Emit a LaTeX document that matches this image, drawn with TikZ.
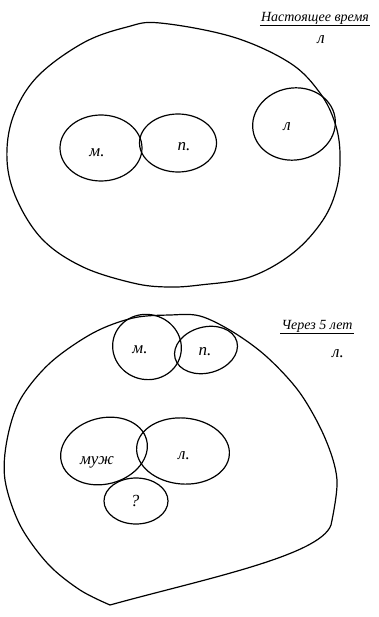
\documentclass[tikz,border=0pt]{standalone}
\usepackage{fontspec}
\setmainfont{Liberation Serif}
\usetikzlibrary{shapes.geometric}
\begin{document}
\begin{tikzpicture}[x=1pt,y=-1pt,
  outline/.style={line width=1.2pt, line join=round},
  blob/.style={draw, ellipse, line width=1.2pt, inner sep=0pt},
  hand/.style={font=\itshape\fontsize{17}{19}\selectfont, inner sep=0pt},
  head/.style={font=\itshape\fontsize{14}{16}\selectfont, inner sep=1pt},
  uline/.style={line width=1.1pt}]
\path[use as bounding box] (0,0) rectangle (379,617);

% ---------- upper picture ----------
\draw[outline] plot[smooth cycle, tension=0.6] coordinates {
  (160,23) (233,37) (290,63) (320,93) (335,123) (340,153) (337,187)
  (323,220) (293,253) (250,277) (200,285) (167,287) (133,283) (83,267)
  (43,240) (17,200) (7,160) (13,117) (37,77) (83,43) (127,27)};

\node[head] (t1) at (315,18) {Настоящее время};
\draw[uline] (t1.south west) -- (t1.south east);
\node[hand] (t1l) at (321,40) {л};

\node[blob, minimum width=82pt, minimum height=66pt] (m1) at (101,148) {};
\node[blob, minimum width=77pt, minimum height=58pt] (p1) at (178,143) {};
\node[blob, minimum width=83pt, minimum height=72pt, rotate=10] (l1) at (294,124) {};
\node[hand] (m1t) at (97,153) {м.};
\node[hand] (p1t) at (184,147) {п.};
\node[hand] (l1t) at (287,127) {л};

% ---------- lower picture ----------
\draw[outline] plot[smooth, tension=0.55] coordinates {
  (110,605) (80,590) (48,564) (20,525) (5,480) (7,440) (20,400) (50,363)
  (93,333) (133,318) (170,315) (200,316) (233,332) (267,357) (300,393)
  (325,438) (337,480) (331,525)}
  .. controls (320,556) and (200,580) .. (110,605);

\node[head] (t2) at (317,326) {Через 5 лет};
\draw[uline] (t2.south west) -- (t2.south east);
\node[hand] (t2l) at (338,354) {л.};

\node[blob, minimum width=69pt, minimum height=65pt, rotate=-15] (m2) at (147,347) {};
\node[blob, minimum width=64pt, minimum height=46pt, rotate=15] (p2) at (206,350) {};
\node[blob, minimum width=88pt, minimum height=66pt, rotate=15] (h2) at (104,451) {};
\node[blob, minimum width=93pt, minimum height=66pt, rotate=-5] (l2) at (183,451) {};
\node[blob, minimum width=64pt, minimum height=46pt] (q2) at (136,501) {};
\node[hand] (m2t) at (140,350) {м.};
\node[hand] (p2t) at (205,352) {п.};
\node[hand] (h2t) at (97,462) {муж};
\node[hand] (l2t) at (184,456) {л.};
\node[hand] (q2t) at (135,501) {?};
\end{tikzpicture}
\end{document}
